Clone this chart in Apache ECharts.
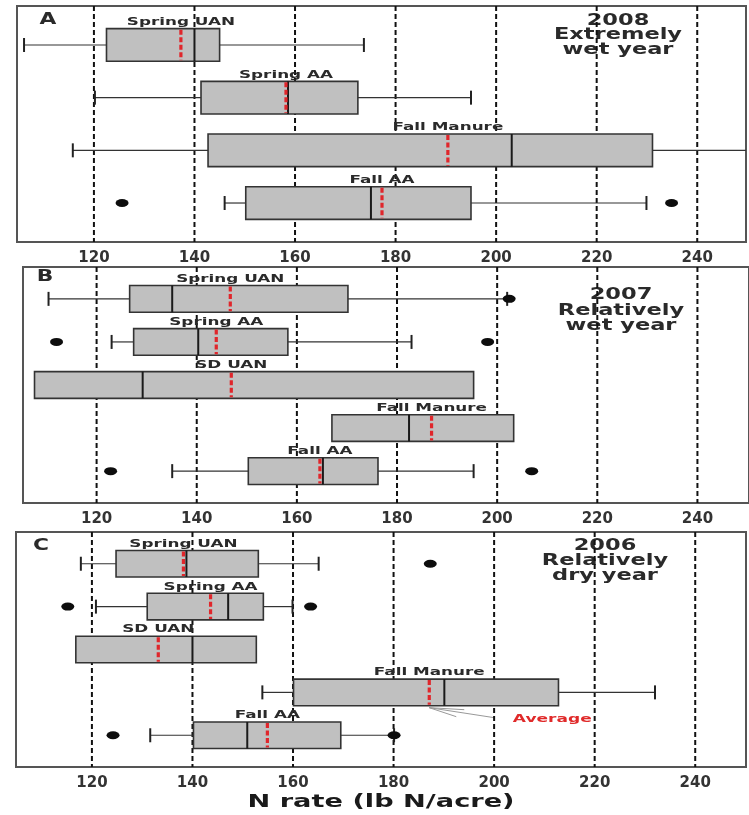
<!DOCTYPE html>
<html>
<head>
<meta charset="utf-8">
<script src="https://cdn.jsdelivr.net/npm/echarts@6/dist/echarts.min.js"></script>
<style>
  html, body { margin: 0; padding: 0; background: #fff; }
  #chart { width: 749px; height: 815px; }
</style>
</head>
<body>
<div id="chart"></div>
<script>
// N rate tick labels shared by the three panels
const rateTicks = [120, 140, 160, 180, 200, 220, 240];

// 2008 – extremely wet year: [min, Q1, median, Q3, max], plus averages and outliers
const treatments2008 = ['Spring UAN', 'Spring AA', 'Fall Manure', 'Fall AA'];
const boxes2008 = [
  [106.1, 122.5, 140.0, 145.0, 173.7],
  [120.2, 141.3, 158.6, 172.5, 195.0],
  [115.8, 142.7, 203.1, 231.1, 255.0],
  [146.0, 150.2, 175.1, 195.0, 229.9]
];
const means2008 = [137.3, 158.2, 190.4, 177.3];
const outliers2008 = [['Fall AA', 125.6], ['Fall AA', 234.9]];

// 2007 – relatively wet year
const treatments2007 = ['Spring UAN', 'Spring AA', 'SD UAN', 'Fall Manure', 'Fall AA'];
const boxes2007 = [
  [110.4, 126.6, 135.1, 170.2, 202.0],
  [123.0, 127.4, 140.3, 158.2, 182.9],
  [107.6, 107.6, 129.2, 195.3, 195.3],
  [167.0, 167.0, 182.4, 203.3, 203.3],
  [135.1, 150.3, 165.2, 176.2, 195.3]
];
const means2007 = [146.7, 143.9, 146.9, 186.9, 164.6];
const outliers2007 = [['Spring UAN', 202.4], ['Spring AA', 112.0], ['Spring AA', 198.1], ['Fall AA', 122.8], ['Fall AA', 206.9]];

// 2006 – relatively dry year
const treatments2006 = ['Spring UAN', 'Spring AA', 'SD UAN', 'Fall Manure', 'Fall AA'];
const boxes2006 = [
  [117.8, 124.8, 138.8, 153.1, 165.1],
  [120.8, 131.0, 147.1, 154.1, 159.9],
  [116.8, 116.8, 140.0, 152.7, 152.7],
  [153.9, 160.1, 190.1, 212.8, 232.0],
  [131.6, 140.2, 150.9, 169.5, 180.1]
];
const means2006 = [138.2, 143.6, 133.2, 187.1, 154.9];
const outliers2006 = [['Spring UAN', 187.3], ['Spring AA', 115.2], ['Spring AA', 163.5], ['Fall AA', 124.2], ['Fall AA', 180.1]];

const FONT = '"DejaVu Sans", "Liberation Sans", sans-serif';
const BOX_HALF = 0.31;   // half box height, as a share of row spacing
const TEXT_STRETCH = 1.6;

const panels = [
  { letter: 'A', note: ['2008', 'Extremely', 'wet year'], names: treatments2008, boxes: boxes2008, means: means2008, outliers: outliers2008,
    grid: { left: 17, top: 6, width: 729, height: 236 }, xr: [104.7, 249.7] },
  { letter: 'B', note: ['2007', 'Relatively', 'wet year'], names: treatments2007, boxes: boxes2007, means: means2007, outliers: outliers2007,
    grid: { left: 23, top: 267, width: 730, height: 236 }, xr: [105.3, 250.3] },
  { letter: 'C', note: ['2006', 'Relatively', 'dry year'], names: treatments2006, boxes: boxes2006, means: means2006, outliers: outliers2006,
    grid: { left: 16, top: 532, width: 730, height: 235 }, xr: [104.9, 250.1] }
];

function boxRenderer(names) {
  return function (params, api) {
    const row = api.value(0);
    const lo = api.value(1), q1 = api.value(2), med = api.value(3), q3 = api.value(4), hi = api.value(5), avg = api.value(6);
    const X = v => api.coord([v, row])[0];
    const yc = api.coord([q1, row])[1];
    const h = api.size([0, 1])[1] * BOX_HALF;
    const cap = 7;
    const whisker = { stroke: '#333', lineWidth: 1.2 };
    const capStyle = { stroke: '#222', lineWidth: 2 };
    const children = [];
    if (lo < q1) {
      children.push({ type: 'line', shape: { x1: X(lo), y1: yc, x2: X(q1), y2: yc }, style: whisker });
      children.push({ type: 'line', shape: { x1: X(lo), y1: yc - cap, x2: X(lo), y2: yc + cap }, style: capStyle });
    }
    if (hi > q3) {
      children.push({ type: 'line', shape: { x1: X(q3), y1: yc, x2: X(hi), y2: yc }, style: whisker });
      children.push({ type: 'line', shape: { x1: X(hi), y1: yc - cap, x2: X(hi), y2: yc + cap }, style: capStyle });
    }
    children.push({ type: 'rect', shape: { x: X(q1), y: yc - h, width: X(q3) - X(q1), height: 2 * h },
      style: { fill: '#c0c0c0', stroke: '#333', lineWidth: 1.6 } });
    children.push({ type: 'line', shape: { x1: X(med), y1: yc - h, x2: X(med), y2: yc + h },
      style: { stroke: '#1a1a1a', lineWidth: 2 } });
    children.push({ type: 'line', shape: { x1: X(avg), y1: yc - h + 1, x2: X(avg), y2: yc + h - 1 },
      style: { stroke: '#e0262b', lineWidth: 3.2, lineDash: [5, 2.5] } });
    children.push({ type: 'text', x: X(avg), y: yc - h - 1, scaleX: TEXT_STRETCH,
      style: { text: names[params.dataIndex], x: 0, y: 0, align: 'center', verticalAlign: 'bottom',
        font: 'bold 10.5px ' + FONT, fill: '#2a2a2a' } });
    return { type: 'group', children };
  };
}

function gridLineRenderer(params, api) {
  const cs = params.coordSys;
  const x = api.coord([api.value(0), 0])[0];
  return { type: 'line', shape: { x1: x, y1: cs.y, x2: x, y2: cs.y + cs.height },
    style: { stroke: '#111', lineWidth: 2, lineDash: [5, 3] } };
}

const ellipse = 'path://M0,10A10,10 0 1,1 20,10A10,10 0 1,1 0,10Z';

const option = {
  animation: false,
  backgroundColor: '#fff',
  grid: panels.map(p => Object.assign({ show: true, borderColor: '#555', borderWidth: 2, backgroundColor: 'transparent' }, p.grid)),
  xAxis: panels.map((p, i) => ({
    gridIndex: i, type: 'value', min: p.xr[0], max: p.xr[1],
    axisLine: { show: false }, axisTick: { show: false }, splitLine: { show: false },
    axisLabel: { customValues: rateTicks, fontFamily: FONT, fontWeight: 'bold', fontSize: 15, color: '#333', margin: 9 }
  })),
  yAxis: panels.map((p, i) => ({
    gridIndex: i, type: 'value', inverse: true, min: -0.74, max: p.names.length - 1 + 0.74, show: false
  })),
  series: []
};

panels.forEach((p, i) => {
  option.series.push({
    type: 'custom', xAxisIndex: i, yAxisIndex: i, z: 1, silent: true,
    data: rateTicks.map(v => [v, 0]), encode: { x: 0, y: 1 },
    renderItem: gridLineRenderer
  });
  option.series.push({
    type: 'custom', xAxisIndex: i, yAxisIndex: i, z: 2, clip: true,
    data: p.boxes.map((b, r) => [r].concat(b, [p.means[r]])),
    encode: { x: [1, 2, 3, 4, 5, 6], y: 0 },
    renderItem: boxRenderer(p.names)
  });
  option.series.push({
    type: 'scatter', xAxisIndex: i, yAxisIndex: i, z: 3,
    symbol: ellipse, symbolSize: [13, 8], itemStyle: { color: '#0d0d0d', opacity: 1 },
    data: p.outliers.map(o => [o[1], p.names.indexOf(o[0])])
  });
});

const chart = echarts.init(document.getElementById('chart'));
chart.setOption(option);

function stretchedText(x, y, text, size, color, stretch) {
  return { type: 'text', x, y, scaleX: stretch, silent: true,
    style: { text, x: 0, y: 0, align: 'center', verticalAlign: 'middle', font: 'bold ' + size + 'px ' + FONT, fill: color } };
}

const graphics = [];
const letterPos = [[48, 20], [45, 277], [41, 546]];
const notePos = [[618, [21, 35, 50]], [621, [295, 311, 326]], [605, [546, 561, 576]]];
panels.forEach((p, i) => {
  graphics.push(stretchedText(letterPos[i][0], letterPos[i][1], p.letter, 15, '#2a2a2a', 1.45));
  p.note.forEach((line, k) => graphics.push(stretchedText(notePos[i][0], notePos[i][1][k], line, 15, '#2a2a2a', 1.5)));
});
graphics.push(stretchedText(381, 803, 'N rate (lb N/acre)', 17, '#1a1a1a', 1.6));

// "Average" call-out pointing at the Fall Manure mean in the 2006 panel
const row = treatments2006.indexOf('Fall Manure');
const a = chart.convertToPixel({ gridIndex: 2 }, [means2006[row], row]);
const b = chart.convertToPixel({ gridIndex: 2 }, [means2006[row], row + 1]);
const sx = a[0], sy = a[1] + (b[1] - a[1]) * BOX_HALF + 2;
[[35, 2], [27, 9], [65, 10]].forEach(d => graphics.push({
  type: 'line', silent: true, shape: { x1: sx, y1: sy, x2: sx + d[0], y2: sy + d[1] },
  style: { stroke: '#999', lineWidth: 1 }
}));
graphics.push(stretchedText(sx + 123, sy + 11, 'Average', 11, '#e02a2a', 1.55));

chart.setOption({ graphic: graphics });
</script>
</body>
</html>
